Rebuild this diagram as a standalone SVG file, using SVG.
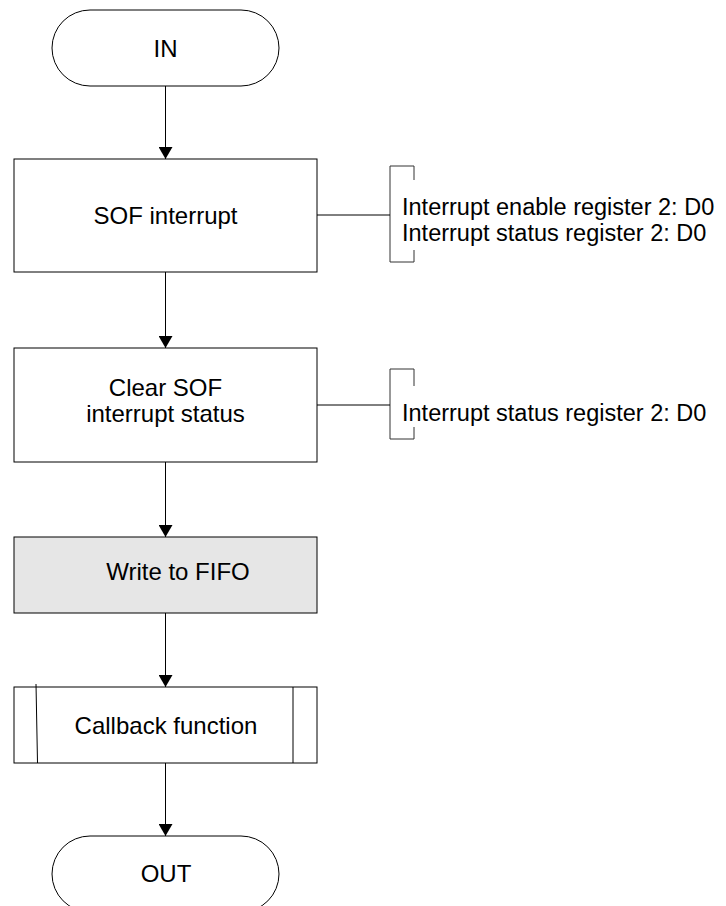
<svg xmlns="http://www.w3.org/2000/svg" width="726" height="906" viewBox="0 0 726 906">
<style>
  .box { fill: #ffffff; stroke: #000; stroke-width: 1; }
  .gray { fill: #e6e6e6; }
  .term { fill: #ffffff; stroke: #000; stroke-width: 1; }
  .lbl { font-family: "Liberation Sans", Arial, sans-serif; font-size: 24px; fill: #000; text-anchor: middle; }
  .note { font-family: "Liberation Sans", Arial, sans-serif; font-size: 23.5px; fill: #000; }
  .edge { fill: none; stroke: #000; stroke-width: 1; }
  .brk { fill: none; stroke: #333; stroke-width: 1; }
</style>
<defs>
  <marker id="arr" markerUnits="userSpaceOnUse" markerWidth="12" markerHeight="14" refX="12" refY="7" orient="auto" viewBox="0 0 12 14">
    <path d="M0,0 L12,7 L0,14 Z" fill="#000"/>
  </marker>
</defs>
<g id="in">
  <rect class="term" x="52" y="10" width="227" height="76" rx="38" ry="38"/>
  <text class="lbl" x="165.5" y="57">IN</text>
</g>
<g id="sof">
  <rect class="box" x="14" y="159" width="303" height="113"/>
  <text class="lbl" x="165.5" y="224">SOF interrupt</text>
</g>
<g id="note1">
  <path class="brk" d="M414,180 V166 H390 V262 H414 V250"/>
  <text class="note" x="402" y="215">Interrupt enable register 2: D0</text>
  <text class="note" x="402" y="241">Interrupt status register 2: D0</text>
</g>
<g id="clear">
  <rect class="box" x="14" y="348" width="303" height="114"/>
  <text class="lbl" x="165.5" y="396">Clear SOF</text>
  <text class="lbl" x="165.5" y="422">interrupt status</text>
</g>
<g id="note2">
  <path class="brk" d="M414,386 V369 H390 V439 H414 V427"/>
  <text class="note" x="402" y="421">Interrupt status register 2: D0</text>
</g>
<g id="fifo">
  <rect class="box gray" x="14" y="537" width="303" height="76"/>
  <text class="lbl" x="178" y="580">Write to FIFO</text>
</g>
<g id="callback">
  <rect class="box" x="14" y="687" width="303" height="76"/>
  <line class="edge" x1="36" y1="684" x2="37.5" y2="763"/>
  <line class="edge" x1="293" y1="687" x2="293" y2="763"/>
  <text class="lbl" x="166" y="734">Callback function</text>
</g>
<g id="out">
  <rect class="term" x="52" y="836" width="227" height="76" rx="38" ry="38"/>
  <text class="lbl" x="166" y="882">OUT</text>
</g>
<g id="connectors">
  <line class="edge" x1="165.5" y1="86" x2="165.5" y2="159" marker-end="url(#arr)"/>
  <line class="edge" x1="165.5" y1="272" x2="165.5" y2="348" marker-end="url(#arr)"/>
  <line class="edge" x1="165.5" y1="462" x2="165.5" y2="537" marker-end="url(#arr)"/>
  <line class="edge" x1="165.5" y1="613" x2="165.5" y2="687" marker-end="url(#arr)"/>
  <line class="edge" x1="165.5" y1="763" x2="165.5" y2="836" marker-end="url(#arr)"/>
  <line class="edge" x1="317" y1="215" x2="390" y2="215"/>
  <line class="edge" x1="317" y1="405" x2="390" y2="405"/>
</g>
</svg>
